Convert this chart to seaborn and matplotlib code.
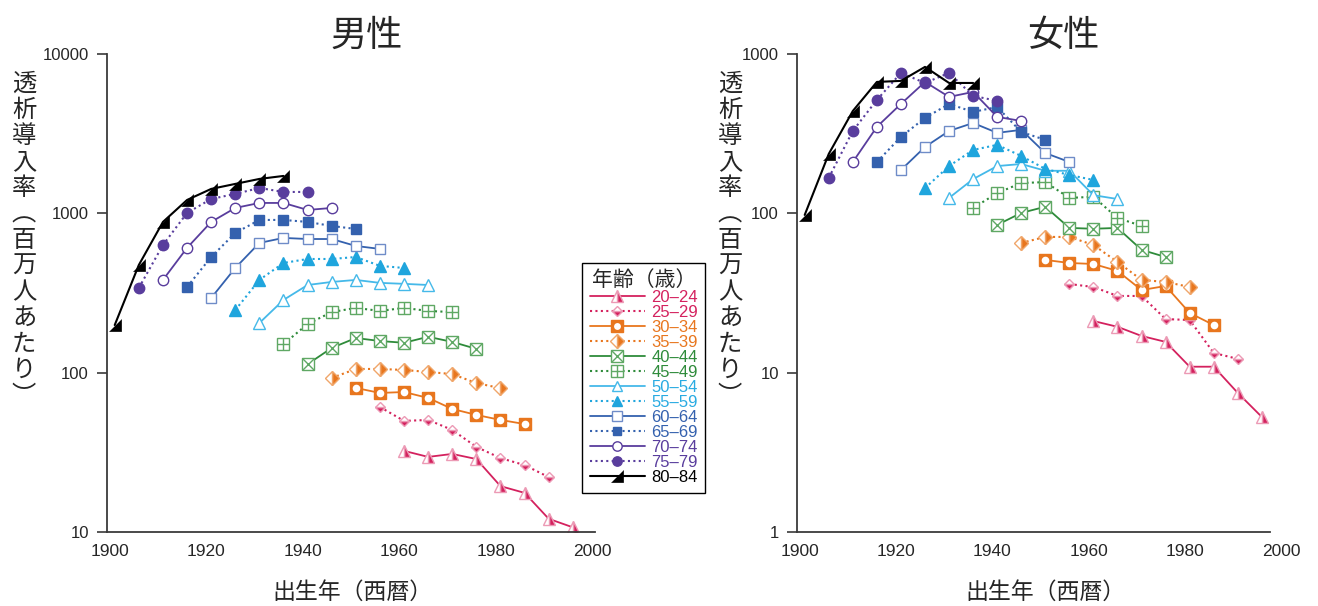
import matplotlib
matplotlib.use("Agg")
import numpy as np
import pandas as pd
import matplotlib.pyplot as plt
import seaborn as sns
from matplotlib.lines import Line2D

# age groups (dialysis start age) and the survey years of each cohort point
age_groups = ["20–24", "25–29", "30–34", "35–39", "40–44", "45–49", "50–54",
              "55–59", "60–64", "65–69", "70–74", "75–79", "80–84"]
mid_ages = [22, 27, 32, 37, 42, 47, 52, 57, 62, 67, 72, 77, 82]
survey_years = [1983, 1988, 1993, 1998, 2003, 2008, 2013, 2018]

# incidence per million, men
male_20_24 = [32.3, 29.6, 30.9, 28.7, 19.4, 17.6, 12.1, 10.7]
male_25_29 = [60.9, 49.8, 50.5, 43.7, 34.2, 29.1, 26.3, 22.1]
male_30_34 = [80.2, 74.6, 75.6, 69.4, 59.2, 54.3, 50.5, 47.6]
male_35_39 = [92.6, 105.5, 105.5, 104, 101, 98, 86, 80]
male_40_44 = [113, 143, 165, 158, 154, 168, 156, 141]
male_45_49 = [151, 202, 240, 255, 244, 255, 244, 240]
male_50_54 = [205, 286, 355, 371, 382, 366, 361, 355]
male_55_59 = [247, 382, 488, 517, 517, 532, 468, 454]
male_60_64 = [294, 454, 652, 701, 690, 690, 624, 598]
male_65_69 = [345, 532, 753, 909, 909, 883, 833, 798]
male_70_74 = [382, 607, 883, 1081, 1162, 1162, 1050, 1081]
male_75_79 = [340, 633, 1006, 1231, 1324, 1443, 1362, 1362]
male_80_84 = [199, 474, 883, 1213, 1423, 1530, 1644, 1717]

# incidence per million, women
female_20_24 = [21.1, 19.4, 17.0, 15.6, 10.9, 10.9, 7.46, 5.27]
female_25_29 = [36.0, 34.5, 30.3, 30.3, 21.7, 21.4, 13.3, 12.2]
female_30_34 = [51.0, 48.8, 48.1, 43.5, 33.0, 35.0, 23.7, 19.9]
female_35_39 = [65.2, 71.1, 71.1, 63.3, 49.5, 38.2, 37.1, 34.5]
female_40_44 = [84.6, 100.6, 110, 81, 80, 81, 59, 53.2]
female_45_49 = [108, 134, 155, 157, 125, 127, 93.5, 83.4]
female_50_54 = [125, 164, 198, 204, 185, 185, 130, 123]
female_55_59 = [144, 198, 250, 269, 229, 190, 174, 162]
female_60_64 = [187, 261, 329, 369, 320, 334, 239, 210]
female_65_69 = [210, 302, 397, 486, 433, 465, 324, 289]
female_70_74 = [210, 349, 486, 668, 538, 578, 403, 380]
female_75_79 = [167, 329, 515, 761, 658, 761, 546, 508]
female_80_84 = [97.7, 236, 439, 668, 678, 830, 658, 658]

male = [male_20_24, male_25_29, male_30_34, male_35_39, male_40_44, male_45_49,
        male_50_54, male_55_59, male_60_64, male_65_69, male_70_74, male_75_79,
        male_80_84]
female = [female_20_24, female_25_29, female_30_34, female_35_39, female_40_44,
          female_45_49, female_50_54, female_55_59, female_60_64, female_65_69,
          female_70_74, female_75_79, female_80_84]

rows = []
for sex, series in (("男性", male), ("女性", female)):
    for grp, age, vals in zip(age_groups, mid_ages, series):
        for sy, v in zip(survey_years, vals):
            rows.append({"sex": sex, "group": grp, "birth": sy - age, "rate": v})
df = pd.DataFrame(rows)

RED = "#D4215E"
ORANGE = "#E8761E"
GREEN = "#2E8B3A"
CYAN1 = "#45B9E9"
CYAN2 = "#1FA5DD"
BLUE = "#3461AE"
PURPLE = "#593D9D"

def st(color, ls, marker, ms, mfc, mec, alt=None, fill="full", mew=1.0, lw=1.3):
    d = dict(color=color, linestyle=ls, linewidth=lw, marker=marker, markersize=ms,
             markerfacecolor=mfc, markeredgecolor=mec, markeredgewidth=mew,
             fillstyle=fill)
    if alt is not None:
        d["markerfacecoloralt"] = alt
    return d

DOT = (0, (1, 1.6))
RIGHT_TRI = [(-1, -1), (1, -1), (1, 1)]   # the black "◢" marker
styles = [
    st(RED, "-", "^", 9, RED, "#EC9AB5", alt="white", fill="right"),
    st(RED, DOT, "D", 5.5, RED, "#EC9AB5", alt="white", fill="bottom", lw=1.5),
    st(ORANGE, "-", "s", 9, ORANGE, ORANGE),
    st(ORANGE, DOT, "D", 7.5, ORANGE, "#F0A66A", alt="white", fill="right", lw=1.5),
    st(GREEN, "-", "s", 9, "white", "#5FA864"),
    st(GREEN, DOT, "s", 9, "white", "#5FA864", lw=1.5),
    st(CYAN1, "-", "^", 8.5, "white", CYAN1),
    st(CYAN2, DOT, "^", 8.5, CYAN2, CYAN2, lw=1.5),
    st(BLUE, "-", "s", 7.5, "white", "#6F8CC8"),
    st(BLUE, DOT, "s", 7, BLUE, BLUE, lw=1.5),
    st(PURPLE, "-", "o", 7.5, "white", PURPLE),
    st(PURPLE, DOT, "o", 7.5, PURPLE, PURPLE, lw=1.5),
    st("black", "-", RIGHT_TRI, 9, "black", "black", mew=0.5, lw=1.5),
]
# extra marker drawn on top of the main one
overlays = {
    2: dict(marker="o", markersize=5.5, markerfacecolor="white",
            markeredgecolor="none", linestyle="none"),
    4: dict(marker="x", markersize=9, markeredgecolor="#5FA864",
            markeredgewidth=1.0, linestyle="none"),
    5: dict(marker="+", markersize=9, markeredgecolor="#5FA864",
            markeredgewidth=1.0, linestyle="none"),
}
text_colors = [RED, RED, ORANGE, ORANGE, GREEN, GREEN, "#29ABE2", "#29ABE2",
               BLUE, BLUE, PURPLE, PURPLE, "black"]

sns.set_theme(style="white")
plt.rcParams["font.family"] = ["Liberation Sans", "Noto Sans CJK JP"]

fig = plt.figure(figsize=(13.18, 6.06), dpi=100)
bottom, height = 1 - 532 / 606, 478 / 606
ax_m = fig.add_axes([107 / 1318, bottom, 488 / 1318, height])
ax_f = fig.add_axes([797 / 1318, bottom, 487 / 1318, height])

for ax, sex in ((ax_m, "男性"), (ax_f, "女性")):
    for i, grp in enumerate(age_groups):
        sub = df[(df["sex"] == sex) & (df["group"] == grp)]
        sns.lineplot(data=sub, x="birth", y="rate", ax=ax, errorbar=None,
                     legend=False, **styles[i])
        if i in overlays:
            sns.lineplot(data=sub, x="birth", y="rate", ax=ax, errorbar=None,
                         legend=False, **overlays[i])
    ax.set_yscale("log")
    ax.set_xlim(1899.4, 2000.6)
    ax.set_xticks([1900, 1920, 1940, 1960, 1980, 2000])
    ax.set_xlabel("")
    ax.set_ylabel("")
    ax.minorticks_off()
    for s in ("top", "right"):
        ax.spines[s].set_visible(False)
    for s in ("left", "bottom"):
        ax.spines[s].set_color("#3a3a3a")
        ax.spines[s].set_linewidth(1.3)
    ax.tick_params(axis="y", direction="out", length=7, width=1.2, color="#3a3a3a",
                   labelsize=12, pad=6, left=True)
    ax.tick_params(axis="x", length=0, labelsize=12.5, pad=9)

ax_m.set_ylim(10, 10000)
ax_m.set_yticks([10, 100, 1000, 10000], ["10", "100", "1000", "10000"])
ax_f.set_ylim(1, 1000)
ax_f.set_yticks([1, 10, 100, 1000], ["1", "10", "100", "1000"])
ax_f.spines["bottom"].set_bounds(1899.4, 1997.6)

cjk = ["Noto Sans CJK JP", "DejaVu Sans"]
fig.text(367 / 1318, 1 - 36 / 606, "男性", ha="center", va="center",
         fontsize=26, family=cjk)
fig.text(1063 / 1318, 1 - 36 / 606, "女性", ha="center", va="center",
         fontsize=26, family=cjk)
ylab = "\n".join("透析導入率︵百万人あたり︶")
for xpx in (24, 730):
    fig.text(xpx / 1318, 1 - 240 / 606, ylab, ha="center", va="center",
             fontsize=17.5, family=cjk, linespacing=1.0, multialignment="center")
for xpx in (352, 1045):
    fig.text(xpx / 1318, 1 - 592 / 606, "出生年（西暦）", ha="center", va="center",
             fontsize=16.5, family=cjk)

handles = []
for i in range(len(age_groups)):
    h = Line2D([], [], **styles[i])
    if i in overlays:
        h = (h, Line2D([], [], **overlays[i]))
    handles.append(h)

leg = fig.legend(handles, age_groups, loc="upper left",
                 bbox_to_anchor=(582 / 1318, 1 - 263 / 606),
                 title="年齢（歳）", title_fontsize=15, fontsize=12,
                 handlelength=3.3, handletextpad=0.4, labelspacing=0.0,
                 borderpad=0.45, borderaxespad=0, numpoints=1, markerscale=0.9,
                 frameon=True, fancybox=False, framealpha=1, edgecolor="black")
leg.get_frame().set_linewidth(1.0)
for t, c in zip(leg.get_texts(), text_colors):
    t.set_color(c)

fig.savefig("out.png", dpi=100)
